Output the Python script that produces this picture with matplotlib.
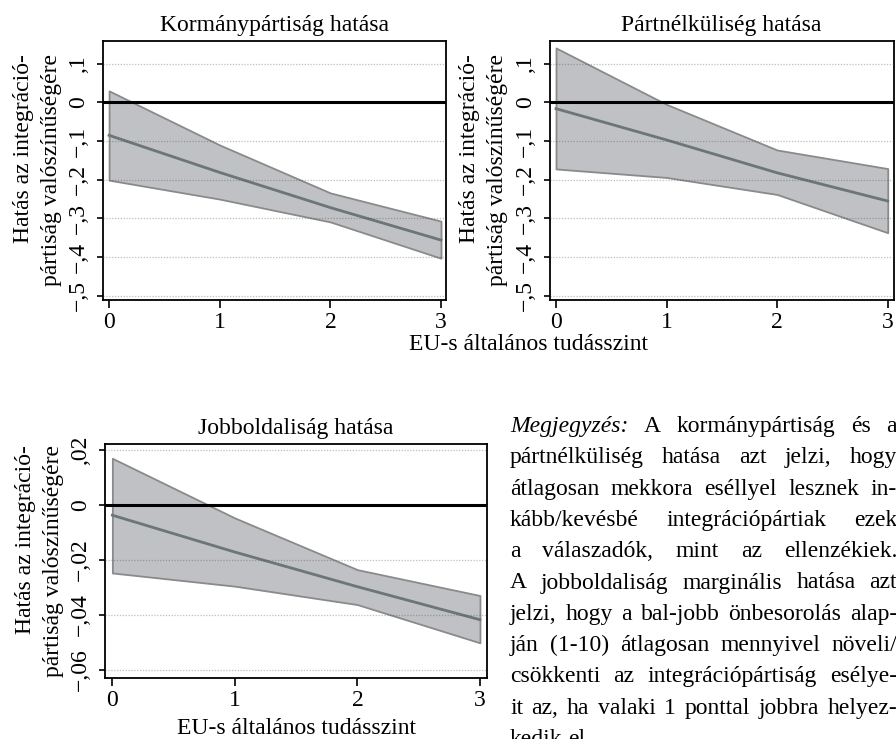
import matplotlib
matplotlib.use('Agg')
import matplotlib.pyplot as plt
import numpy as np

plt.rcParams['font.family'] = ['Liberation Serif', 'DejaVu Serif']

# EU-s általános tudásszint (0-3)
tudas = [0, 1, 2, 3]

# Kormánypártiság hatása
korm_mean = [-0.085, -0.181, -0.272, -0.356]
korm_lo = [-0.201, -0.250, -0.309, -0.403]
korm_hi = [0.030, -0.110, -0.234, -0.307]

# Pártnélküliség hatása
part_mean = [-0.016, -0.097, -0.182, -0.255]
part_lo = [-0.172, -0.194, -0.238, -0.337]
part_hi = [0.141, -0.005, -0.123, -0.171]

# Jobboldaliság hatása
jobb_mean = [-0.0037, -0.0171, -0.0297, -0.0417]
jobb_lo = [-0.0247, -0.0295, -0.0362, -0.0501]
jobb_hi = [0.0170, -0.0047, -0.0235, -0.0329]

top_yticks = [-0.5, -0.4, -0.3, -0.2, -0.1, 0, 0.1]
top_ylabels = ['\u2212,5', '\u2212,4', '\u2212,3', '\u2212,2', '\u2212,1', '0', ',1']
bot_yticks = [-0.06, -0.04, -0.02, 0, 0.02]
bot_ylabels = ['\u2212,06', '\u2212,04', '\u2212,02', '0', ',02']

ylab = 'Hatás az integráció-\npártiság valószínűségére'
xlab = 'EU-s általános tudásszint'

note_lines = [
    'Megjegyzés: A kormánypártiság és a',
    'pártnélküliség hatása azt jelzi, hogy',
    'átlagosan mekkora eséllyel lesznek in-',
    'kább/kevésbé integrációpártiak ezek',
    'a válaszadók, mint az ellenzékiek.',
    'A jobboldaliság marginális hatása azt',
    'jelzi, hogy a bal-jobb önbesorolás alap-',
    'ján (1-10) átlagosan mennyivel növeli/',
    'csökkenti az integrációpártiság esélye-',
    'it az, ha valaki 1 ponttal jobbra helyez-',
    'kedik el.',
]

FS = 17
W, H = 896, 739
fig = plt.figure(figsize=(W / 100, H / 100), dpi=100)


def px_axes(l, t, r, b):
    return fig.add_axes([l / W, 1 - b / H, (r - l) / W, (b - t) / H])


def panel(ax, mean, lo, hi, title, yticks, ylabels, xlim, ylim):
    ax.fill_between(tudas, lo, hi, facecolor='#c0c1c4', edgecolor='#8a8a8a',
                    linewidth=1.3, zorder=2)
    ax.plot(tudas, mean, color='#6b7676', linewidth=2, zorder=3)
    ax.axhline(0, color='black', linewidth=2.2, zorder=4)
    for y in yticks:
        if y != 0:
            ax.axhline(y, color='#444444', alpha=0.35, linewidth=0.9,
                       linestyle=(0, (1, 1.3)), zorder=3.5)
    ax.set_xlim(*xlim)
    ax.set_ylim(*ylim)
    ax.set_xticks(tudas)
    ax.set_xticklabels([str(t) for t in tudas], fontsize=FS)
    ax.set_yticks(yticks)
    ax.set_yticklabels(ylabels, fontsize=FS, rotation=90, va='center')
    ax.tick_params(axis='y', length=4, width=1.2, pad=6)
    ax.tick_params(axis='x', length=6, width=1.2, pad=3)
    for s in ax.spines.values():
        s.set_linewidth(1.3)
    ax.set_title(title, fontsize=FS, pad=7)
    ax.set_ylabel(ylab, fontsize=FS, multialignment='right', linespacing=1.45)


ax1 = px_axes(103, 41, 446, 300)
panel(ax1, korm_mean, korm_lo, korm_hi, 'Kormánypártiság hatása',
      top_yticks, top_ylabels, (-0.055, 3.045), (-0.511, 0.159))
ax1.yaxis.set_label_coords(-0.12, 0.5)

ax2 = px_axes(549.7, 41, 893.5, 300)
panel(ax2, part_mean, part_lo, part_hi, 'Pártnélküliség hatása',
      top_yticks, top_ylabels, (-0.057, 3.052), (-0.511, 0.159))
ax2.yaxis.set_label_coords(-0.12, 0.5)

ax3 = px_axes(105, 444, 487.3, 678)
panel(ax3, jobb_mean, jobb_lo, jobb_hi, 'Jobboldaliság hatása',
      bot_yticks, bot_ylabels, (-0.06, 3.06), (-0.0629, 0.0222))
ax3.yaxis.set_label_coords(-0.108, 0.5)
ax3.set_xlabel(xlab, fontsize=FS, labelpad=5)

# közös x-felirat a felső sorban
fig.text(528 / W, 1 - 345 / H, xlab, fontsize=FS, ha='center', va='center')

# Megjegyzés - sorkizárt szöveg
renderer = fig.canvas.get_renderer()
x_left, x_right = 510, 897
y0, dy = 432, 31.3
for i, line in enumerate(note_lines):
    yb = 1 - (y0 + i * dy) / H
    words = line.split(' ')
    texts = []
    for w in words:
        style = 'italic' if w == 'Megjegyzés:' else 'normal'
        texts.append(fig.text(x_left / W, yb, w, fontsize=FS, style=style,
                              ha='left', va='baseline'))
    widths = [t.get_window_extent(renderer).width for t in texts]
    if i == len(note_lines) - 1:
        gap = 0.25 * FS * 100 / 72
    else:
        gap = (x_right - x_left - sum(widths)) / (len(words) - 1)
    x = x_left
    for t, w in zip(texts, widths):
        t.set_x(x / W)
        x += w + gap

fig.savefig('out.png', dpi=100)
